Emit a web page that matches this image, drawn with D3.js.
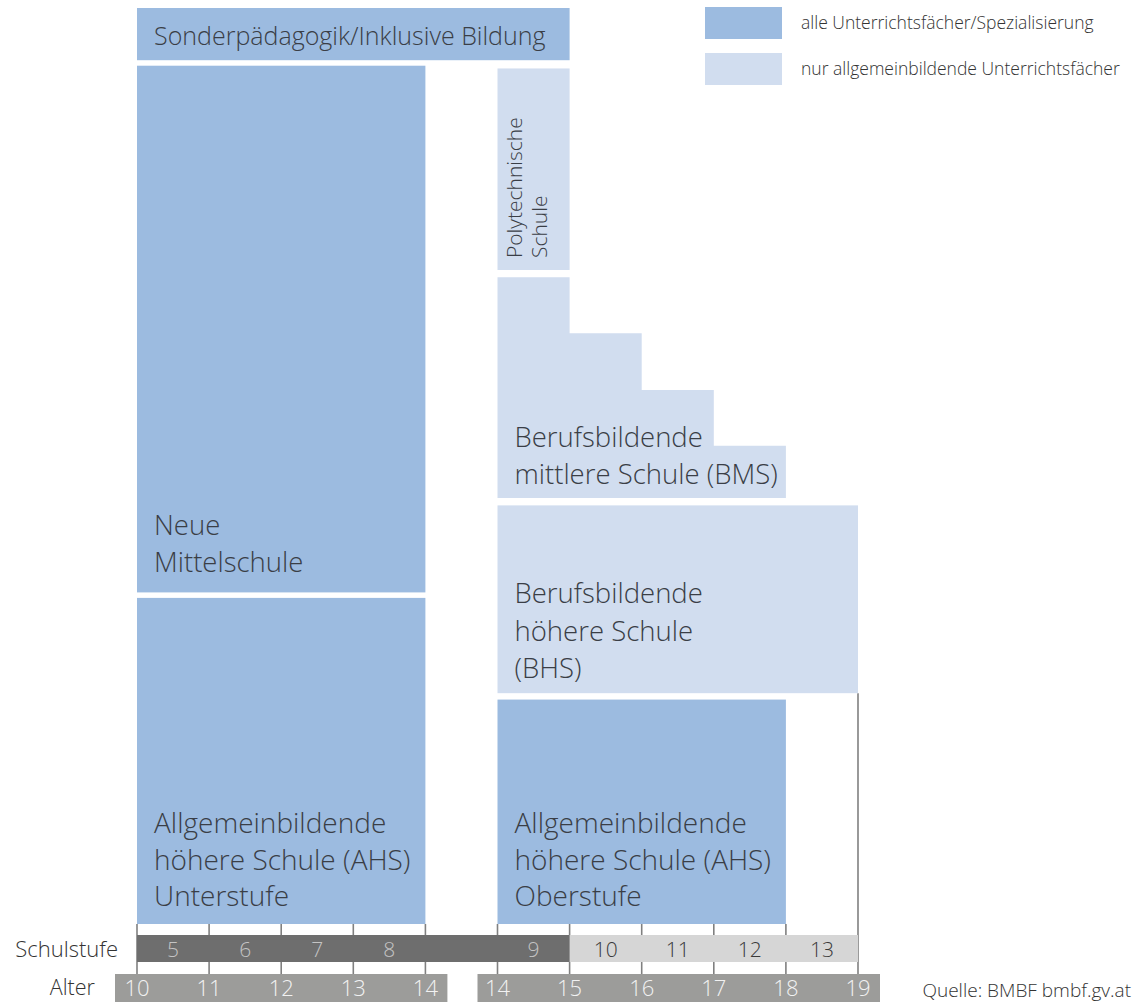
<!DOCTYPE html>
<html>
<head>
<meta charset="utf-8">
<script src="https://cdn.jsdelivr.net/npm/d3@7"></script>
<style>
	body { margin: 0; background: #fff; }
	text { font-family: "Open Sans", sans-serif; font-weight: 300; }
</style>
</head>
<body>
<svg id="svgarea" width="1133" height="1003"></svg>
<script>
// school grades (Schulstufe) and the column slot each one sits in (slot 4 is the gap)
const grades		= [5, 6, 7, 8, 9, 10, 11, 12, 13];
const gradeSlots	= [0, 1, 2, 3, 5, 6, 7, 8, 9];
const lowerGrades	= [5, 6, 7, 8, 9];		// dark part of the Schulstufe bar
// ages and the tick slot each one sits on
const agesLeft		= [10, 11, 12, 13, 14];
const agesLeftSlots	= [0, 1, 2, 3, 4];
const agesRight		= [14, 15, 16, 17, 18, 19];
const agesRightSlots	= [5, 6, 7, 8, 9, 10];

// schools: slot range and vertical share (0..100)
const schoolNames	= ['Sonderpädagogik/Inklusive Bildung', 'Neue|Mittelschule', 'Allgemeinbildende|höhere Schule (AHS)|Unterstufe',
						'Polytechnische|Schule', 'Berufsbildende|höhere Schule|(BHS)', 'Allgemeinbildende|höhere Schule (AHS)|Oberstufe'];
const schoolType	= ['all', 'all', 'all', 'general', 'general', 'all'];
const schoolFrom	= [0, 0, 0, 5, 5, 5];
const schoolTo		= [6, 4, 4, 6, 10, 9];
const schoolBottom	= [94.3, 36.2, 0, 71.4, 25.2, 0];
const schoolTop		= [100, 93.7, 35.6, 93.4, 45.7, 24.5];

// BMS staircase: one top per grade column (grades 9..12)
const bmsSlots		= [5, 6, 7, 8];
const bmsTops		= [70.6, 64.5, 58.3, 52.2];
const bmsBottom		= 46.5;

const legendLabels	= ['alle Unterrichtsfächer/Spezialisierung', 'nur allgemeinbildende Unterrichtsfächer'];
const colors		= { all: '#9cbbe0', general: '#d1ddef' };

var svg = d3.select('#svgarea');
var x = d3.scaleLinear().domain([0, 10]).range([137, 858]);
var y = d3.scaleLinear().domain([0, 100]).range([924, 8]);
var col = x(1) - x(0);

// age tick lines (behind the bars)
var tickSlots = agesLeftSlots.concat(agesRightSlots);
svg.selectAll('line.tick').data(tickSlots).enter().append('line')
	.attr('x1', d => x(d)).attr('x2', d => x(d))
	.attr('y1', d => d == 10 ? y(schoolBottom[4]) : y(0))
	.attr('y2', 974)
	.attr('stroke', '#808080').attr('stroke-width', 1.6);

// school boxes
schoolNames.forEach(function(name, i){
	svg.append('rect')
		.attr('x', x(schoolFrom[i]))
		.attr('y', y(schoolTop[i]))
		.attr('width', x(schoolTo[i]) - x(schoolFrom[i]))
		.attr('height', y(schoolBottom[i]) - y(schoolTop[i]))
		.attr('fill', colors[schoolType[i]]);
});

// BMS staircase
var stair = [[x(bmsSlots[0]), y(bmsBottom)]];
bmsSlots.forEach(function(s, i){
	stair.push([x(s), y(bmsTops[i])]);
	stair.push([x(s + 1), y(bmsTops[i])]);
});
stair.push([x(bmsSlots[bmsSlots.length - 1] + 1), y(bmsBottom)]);
svg.append('path').attr('d', d3.line()(stair) + 'Z').attr('fill', colors.general);

// labels inside the boxes
function multiline(lines, px, py, size, lh){
	var t = svg.append('text').attr('x', px).attr('y', py)
		.attr('font-size', size).attr('fill', '#3a3e46');
	lines.forEach(function(l, k){
		t.append('tspan').attr('x', px).attr('dy', k == 0 ? 0 : lh).text(l);
	});
	return t;
}
var pad = 17;
multiline([schoolNames[0]], x(0) + pad, y(schoolTop[0]) + 37, 25, 0);
multiline(schoolNames[1].split('|'), x(0) + pad, 535, 27.5, 36.5);
multiline(schoolNames[2].split('|'), x(0) + pad, 833, 28, 36.5);
multiline(schoolNames[4].split('|'), x(5) + pad, 603, 27.5, 37.5);
multiline(schoolNames[5].split('|'), x(5) + pad, 833, 28, 36.5);
multiline(['Berufsbildende', 'mittlere Schule (BMS)'], x(5) + pad, 447, 27.5, 36.5);

// Polytechnische Schule, rotated
var poly = svg.append('g').attr('transform', 'translate(' + (x(5) + 24) + ',' + (y(schoolBottom[3]) - 12) + ') rotate(-90)');
schoolNames[3].split('|').forEach(function(l, k){
	poly.append('text').attr('x', 0).attr('y', k * 25).attr('font-size', 21).attr('fill', '#3a3e46').text(l);
});

// Schulstufe bar
svg.append('rect').attr('x', x(0)).attr('y', 935).attr('width', x(10) - x(0)).attr('height', 27).attr('fill', '#d6d6d6');
svg.append('rect').attr('x', x(0)).attr('y', 935).attr('width', x(6) - x(0)).attr('height', 27).attr('fill', '#6e6e6e');
svg.selectAll('text.grade').data(grades).enter().append('text')
	.attr('x', (d, i) => x(gradeSlots[i]) + col / 2)
	.attr('y', 957)
	.attr('text-anchor', 'middle')
	.attr('font-size', 21)
	.attr('fill', d => lowerGrades.indexOf(d) >= 0 ? '#c4c4c4' : '#3a3a3a')
	.text(d => d);
svg.append('text').attr('x', 118).attr('y', 957).attr('text-anchor', 'end')
	.attr('font-size', 22).attr('fill', '#333').text('Schulstufe');

// Alter bars
svg.append('rect').attr('x', x(0) - 22).attr('y', 974).attr('width', x(4) - x(0) + 44).attr('height', 28).attr('fill', '#9c9c9a');
svg.append('rect').attr('x', x(5) - 20).attr('y', 974).attr('width', x(10) - x(5) + 42).attr('height', 28).attr('fill', '#9c9c9a');
svg.selectAll('text.ageL').data(agesLeft).enter().append('text')
	.attr('x', (d, i) => x(agesLeftSlots[i])).attr('y', 996)
	.attr('text-anchor', 'middle').attr('font-size', 22).attr('fill', '#f2f2f2').text(d => d);
svg.selectAll('text.ageR').data(agesRight).enter().append('text')
	.attr('x', (d, i) => x(agesRightSlots[i])).attr('y', 996)
	.attr('text-anchor', 'middle').attr('font-size', 22).attr('fill', '#f2f2f2').text(d => d);
svg.append('text').attr('x', 95).attr('y', 995).attr('text-anchor', 'end')
	.attr('font-size', 21.5).attr('fill', '#333').text('Alter');

// legend
legendLabels.forEach(function(l, i){
	svg.append('rect').attr('x', 705).attr('y', 7 + i * 46).attr('width', 77).attr('height', 32)
		.attr('fill', i == 0 ? colors.all : colors.general);
	svg.append('text').attr('x', 801).attr('y', 29 + i * 46).attr('font-size', 17.5).attr('fill', '#333').text(l);
});

// source
svg.append('text').attr('x', 1131).attr('y', 997).attr('text-anchor', 'end')
	.attr('font-size', 19).attr('fill', '#333').text('Quelle: BMBF bmbf.gv.at');
</script>
</body>
</html>
